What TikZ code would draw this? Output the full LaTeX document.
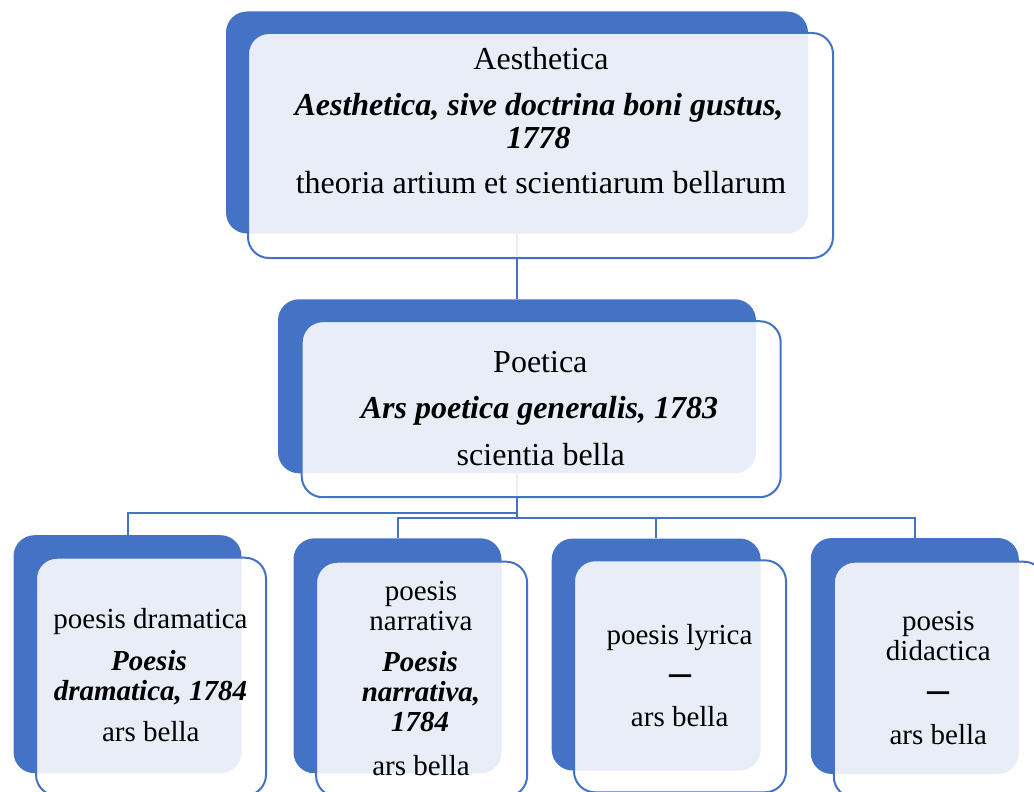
\documentclass[tikz,border=0pt]{standalone}
\usepackage{fontspec}
\setmainfont{Liberation Serif}
\definecolor{sblue}{HTML}{4472C4}
\newcommand\fbig{\fontsize{32}{32}\selectfont}
\newcommand\fsml{\fontsize{29}{29}\selectfont}
\newcommand\fdsh{\fontsize{40}{40}\selectfont\bfseries}
\begin{document}
\begin{tikzpicture}[x=1pt,y=-1pt,
  backbox/.style={rectangle, fill=sblue, draw=none, inner sep=0pt, rounded corners=21pt},
  frontbox/.style={rectangle, fill=white, fill opacity=0.88, draw=sblue, line width=2pt, inner sep=0pt, rounded corners=21pt},
  conn/.style={draw=sblue, line width=2pt},
  txt/.style={anchor=base, inner sep=0pt, text=black}]
\useasboundingbox (0,0) rectangle (1034,792);
\clip (0,0) rectangle (1034,792);
% back boxes
\node[backbox, minimum width=582pt, minimum height=222pt] (aB) at (517,122.5) {};
\node[backbox, minimum width=478pt, minimum height=174pt] (pB) at (517,386.3) {};
\node[backbox, minimum width=228pt, minimum height=238pt] (c1B) at (127.5,654.2) {};
\node[backbox, minimum width=208pt, minimum height=235pt] (c2B) at (397.5,655.8) {};
\node[backbox, minimum width=209pt, minimum height=232pt] (c3B) at (656.2,654.5) {};
\node[backbox, minimum width=208pt, minimum height=236pt] (c4B) at (914.8,656) {};
% connectors
\coordinate (m1) at (517,513);
\coordinate (m2) at (517,518);
\draw[conn] (aB.south) -- (pB.north);
\draw[conn] (pB.south) -- (m1) -| (c1B.north);
\draw[conn] (pB.south) -- (m2) -| (c2B.north);
\draw[conn] (pB.south) -- (m2) -| (c3B.north);
\draw[conn] (pB.south) -- (m2) -| (c4B.north);
% front boxes
\node[frontbox, minimum width=585pt, minimum height=225pt] (aF) at (540.5,145.5) {};
\node[frontbox, minimum width=479pt, minimum height=176pt] (pF) at (541.2,409.2) {};
\node[frontbox, minimum width=230pt, minimum height=238pt] (c1F) at (151,676.7) {};
\node[frontbox, minimum width=211pt, minimum height=235pt] (c2F) at (421.6,679.2) {};
\node[frontbox, minimum width=212pt, minimum height=232pt] (c3F) at (680,676.3) {};
\node[frontbox, minimum width=211pt, minimum height=236pt] (c4F) at (939.3,679.7) {};
% texts: Aesthetica
\node[txt, font=\fbig] (aT1) at (541,69.3) {Aesthetica};
\node[txt, font=\fbig\bfseries\itshape] (aT2) at (539,115) {Aesthetica, sive doctrina boni gustus,};
\node[txt, font=\fbig\bfseries\itshape] (aT3) at (538.5,148) {1778};
\node[txt, font=\fbig] (aT4) at (541,193.3) {theoria artium et scientiarum bellarum};
% Poetica
\node[txt, font=\fbig] (pT1) at (540.3,372.7) {Poetica};
\node[txt, font=\fbig\bfseries\itshape] (pT2) at (539.5,418.3) {Ars poetica generalis, 1783};
\node[txt, font=\fbig] (pT3) at (540.7,465) {scientia bella};
% child 1
\node[txt, font=\fsml] (c1T1) at (150.5,628.3) {poesis dramatica};
\node[txt, font=\fsml\bfseries\itshape] (c1T2) at (149,670) {Poesis};
\node[txt, font=\fsml\bfseries\itshape] (c1T3) at (150.5,700) {dramatica, 1784};
\node[txt, font=\fsml] (c1T4) at (150.8,741.7) {ars bella};
% child 2
\node[txt, font=\fsml] (c2T1) at (421,600) {poesis};
\node[txt, font=\fsml] (c2T2) at (421,630) {narrativa};
\node[txt, font=\fsml\bfseries\itshape] (c2T3) at (420,671.7) {Poesis};
\node[txt, font=\fsml\bfseries\itshape] (c2T4) at (421,701.7) {narrativa,};
\node[txt, font=\fsml\bfseries\itshape] (c2T5) at (420,731.7) {1784};
\node[txt, font=\fsml] (c2T6) at (421,775) {ars bella};
% child 3
\node[txt, font=\fsml] (c3T1) at (679.5,644) {poesis lyrica};
\node[txt, font=\fdsh] (c3T2) at (680,685) {\scalebox{0.55}[1]{—}};
\node[txt, font=\fsml] (c3T3) at (679.7,726.7) {ars bella};
% child 4
\node[txt, font=\fsml] (c4T1) at (938.3,630) {poesis};
\node[txt, font=\fsml] (c4T2) at (938.3,660) {didactica};
\node[txt, font=\fdsh] (c4T3) at (938.5,702) {\scalebox{0.55}[1]{—}};
\node[txt, font=\fsml] (c4T4) at (938.3,744) {ars bella};
\end{tikzpicture}
\end{document}
